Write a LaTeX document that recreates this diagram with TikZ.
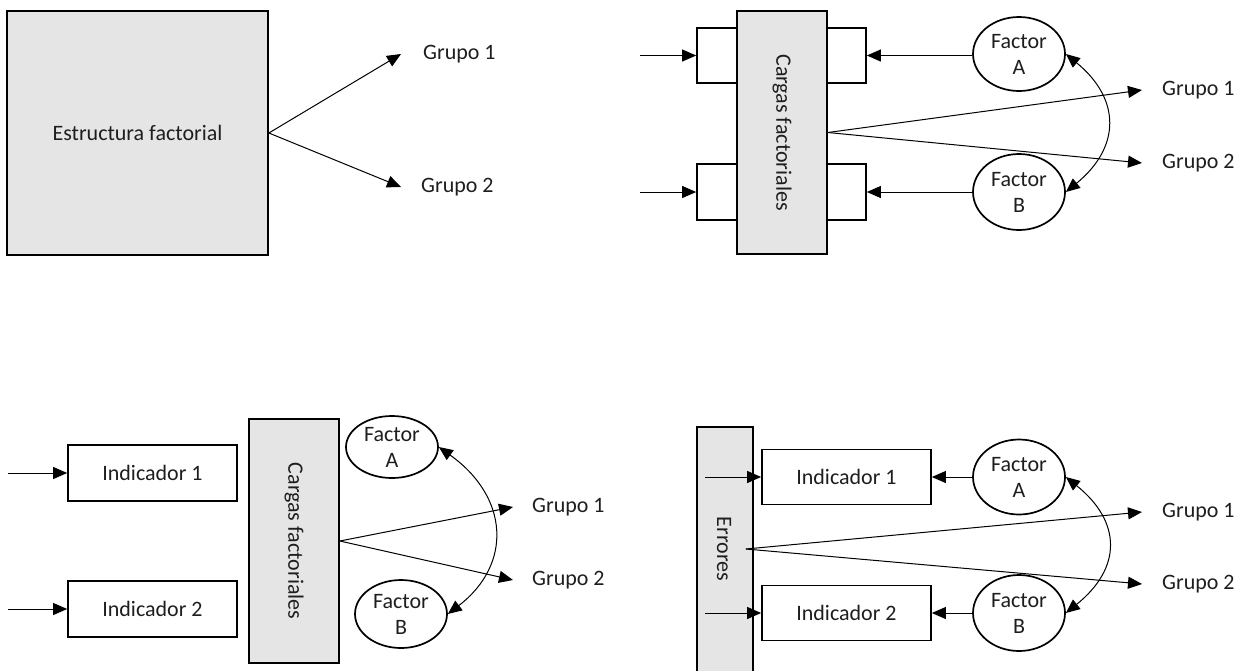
\documentclass[tikz,border=0pt]{standalone}
\usepackage{fontspec}
\setmainfont{Carlito}
\usetikzlibrary{shapes.geometric,arrows.meta}
\definecolor{boxgray}{HTML}{E5E5E5}
\definecolor{txt}{HTML}{1E1E1E}
\begin{document}
\begin{tikzpicture}[x=1pt,y=-1pt,
 every node/.style={font=\fontsize{22}{26}\selectfont, text=txt},
 box/.style={draw=black, line width=1.7pt, rectangle, inner sep=0pt},
 gbox/.style={box, fill=boxgray},
 fac/.style={draw=black, line width=1.7pt, ellipse, inner sep=0pt, align=center, minimum width=92pt},
 arr/.style={line width=1pt, -{Triangle[length=14pt,width=12pt]}},
 darr/.style={line width=1pt, {Triangle[length=14pt,width=12pt]}-{Triangle[length=14pt,width=12pt]}},
 grp/.style={anchor=west, inner sep=0pt}]
\useasboundingbox (0,0) rectangle (1239,670);

% ---------- Panel 1 ----------
\node[gbox, minimum width=261pt, minimum height=244pt] (ef) at (137.5,133) {Estructura factorial};
\node[grp] (g1a) at (423,54) {Grupo 1};
\node[grp] (g2a) at (421,187) {Grupo 2};
\draw[arr] (ef.east) -- ([xshift=-22pt]g1a.west);
\draw[arr] (ef.east) -- ([xshift=-20pt]g2a.west);

% ---------- Panel 2 ----------
\node[box, minimum width=40pt, minimum height=55pt] (lb1) at (717,55.5) {};
\node[box, minimum width=40pt, minimum height=56pt] (lb2) at (717,192) {};
\node[box, minimum width=39pt, minimum height=55pt] (rb1) at (846.5,55.5) {};
\node[box, minimum width=39pt, minimum height=56pt] (rb2) at (846.5,192) {};
\node[gbox, minimum width=90pt, minimum height=243pt] (cf) at (782,132.5) {};
\node[rotate=-90] (cfl) at (cf.center) {Cargas factoriales};
\node[fac, minimum height=74pt] (fa2) at (1019,54) {Factor\\A};
\node[fac, minimum height=76pt] (fb2) at (1019,192) {Factor\\B};
\node[grp] (g1b) at (1162,90) {Grupo 1};
\node[grp] (g2b) at (1162,163) {Grupo 2};
\coordinate (in2a) at (640,55.5);
\coordinate (in2b) at (640,192);
\draw[arr] (in2a) -- (lb1.west);
\draw[arr] (in2b) -- (lb2.west);
\draw[arr] (fa2.west |- rb1.east) -- (rb1.east);
\draw[arr] (fb2.west) -- (rb2.east);
\draw[arr] (cf.east) -- ([xshift=-20pt]g1b.west);
\draw[arr] (cf.east) -- ([xshift=-20pt]g2b.west);
\draw[darr] (fa2.east) .. controls +(55,45) and +(55,-45) .. (fb2.east);

% ---------- Panel 3 ----------
\node[box, minimum width=169pt, minimum height=56pt] (i1) at (152.5,473) {Indicador 1};
\node[box, minimum width=169pt, minimum height=56pt] (i2) at (152.5,609) {Indicador 2};
\node[gbox, minimum width=90pt, minimum height=244pt] (cg) at (294,541) {};
\node[rotate=-90] (cgl) at (cg.center) {Cargas factoriales};
\node[fac, minimum height=62pt] (fa3) at (392,447) {Factor\\A};
\node[fac, minimum height=68pt] (fb3) at (401,614) {Factor\\B};
\node[grp] (g1c) at (532,507) {Grupo 1};
\node[grp] (g2c) at (532,580) {Grupo 2};
\coordinate (in3a) at (8,473);
\coordinate (in3b) at (8,609);
\draw[arr] (in3a) -- (i1.west);
\draw[arr] (in3b) -- (i2.west);
\draw[arr] (cg.east) -- ([xshift=-19pt]g1c.west);
\draw[arr] (cg.east) -- ([xshift=-19pt]g2c.west);
\draw[darr] (fa3.east) .. controls +(70,50) and +(65,-50) .. (fb3.east);

% ---------- Panel 4 ----------
\node[gbox, minimum width=56pt, minimum height=248pt] (er) at (725,551) {};
\node[rotate=-90] (erl) at (724,549) {Errores};
\node[box, minimum width=169pt, minimum height=55pt] (i3) at (846.5,477) {Indicador 1};
\node[box, minimum width=169pt, minimum height=55pt] (i4) at (846.5,613) {Indicador 2};
\node[fac, minimum height=75pt] (fa4) at (1019,477) {Factor\\A};
\node[fac, minimum height=76pt] (fb4) at (1019,613) {Factor\\B};
\node[grp] (g1d) at (1162,512) {Grupo 1};
\node[grp] (g2d) at (1162,584) {Grupo 2};
\coordinate (in4a) at (705,477);
\coordinate (in4b) at (705,613);
\draw[arr] (in4a) -- (i3.west);
\draw[arr] (in4b) -- (i4.west);
\draw[arr] (fa4.west) -- (i3.east);
\draw[arr] (fb4.west) -- (i4.east);
\draw[arr] ([xshift=-8pt]er.east|-erl.center) -- ([xshift=-20pt]g1d.west);
\draw[arr] ([xshift=-8pt]er.east|-erl.center) -- ([xshift=-20pt]g2d.west);
\draw[darr] (fa4.east) .. controls +(56,45) and +(56,-45) .. (fb4.east);
\end{tikzpicture}
\end{document}
